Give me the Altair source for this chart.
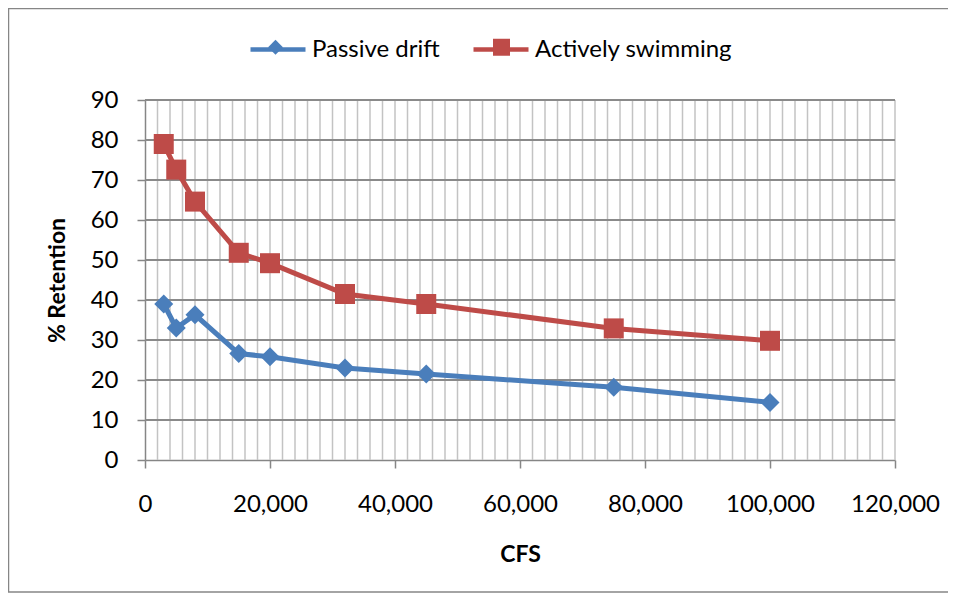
import altair as alt
import pandas as pd

# ---- data ----
cfs = [3000, 5000, 8000, 15000, 20000, 32000, 45000, 75000, 100000]
passive = [39.0, 33.0, 36.3, 26.6, 25.8, 23.0, 21.5, 18.2, 14.4]
active = [79.0, 72.6, 64.6, 51.8, 49.2, 41.5, 39.0, 32.9, 29.8]
series_names = ["Passive drift", "Actively swimming"]
series_colors = ["#4a7ebb", "#be4b48"]

x_ticks = [0, 20000, 40000, 60000, 80000, 100000, 120000]
y_ticks = [0, 10, 20, 30, 40, 50, 60, 70, 80, 90]
x_minor_grid = list(range(2000, 120001, 2000))
y_grid = [10, 20, 30, 40, 50, 60, 70, 80, 90]

rows = []
for c, p, a in zip(cfs, passive, active):
    rows.append({"cfs": c, "pct": p, "series": series_names[0]})
    rows.append({"cfs": c, "pct": a, "series": series_names[1]})
df = pd.DataFrame(rows)

W, H = 750, 360
FONT = "Lato"
AXIS_GRAY = "#868686"

x_axis = alt.Axis(values=x_ticks, format=",.0f", grid=False, domainColor=AXIS_GRAY, domainWidth=1.5,
                  tickColor=AXIS_GRAY, tickWidth=1.5, tickSize=8, labelFont=FONT, labelFontSize=24,
                  labelColor="black", labelPadding=24, labelFlush=False, labelOverlap=False,
                  title="CFS", titleFont=FONT, titleFontSize=23, titleFontWeight="bold",
                  titleColor="black", titleY=94, titleBaseline="middle")
y_axis = alt.Axis(values=y_ticks, format=".0f", grid=False, domainColor=AXIS_GRAY, domainWidth=1.5,
                  tickColor=AXIS_GRAY, tickWidth=1.5, tickSize=8, labelFont=FONT, labelFontSize=24,
                  labelColor="black", labelPadding=19, labelFlush=False, labelOverlap=False,
                  title="% Retention", titleFont=FONT, titleFontSize=23, titleFontWeight="bold",
                  titleColor="black", titleAngle=270, titleX=-88, titleY=180,
                  titleAlign="center", titleBaseline="middle")
x_scale = alt.Scale(domain=[0, 120000], nice=False, zero=True)
y_scale = alt.Scale(domain=[0, 90], nice=False)


def X(field):
    return alt.X(field, type="quantitative", scale=x_scale, axis=x_axis)


def Y(field):
    return alt.Y(field, type="quantitative", scale=y_scale, axis=y_axis)


leg_common = dict(orient="none", legendX=103, legendY=-80.5, direction="horizontal", title=None,
                  labelFont=FONT, labelFontSize=24, labelOffset=4,
                  symbolSize=3025, symbolOpacity=1, padding=0, labelLimit=400,
                  values=series_names)

# outer chart border
border = alt.Chart(pd.DataFrame({"b": [0]})).mark_rect(
    fillOpacity=0, stroke=AXIS_GRAY, strokeWidth=1.5
).encode(x=alt.value(-136.5), x2=alt.value(W + 70), y=alt.value(-91.5), y2=alt.value(H + 132))

vgrid = alt.Chart(pd.DataFrame({"gx": x_minor_grid})).mark_rule(
    color="#c3c3c3", strokeWidth=1.5
).encode(x=X("gx"))

hgrid = alt.Chart(pd.DataFrame({"gy": y_grid})).mark_rule(
    color="#8a8a8a", strokeWidth=1.8
).encode(y=Y("gy"))

# lines carry the visible legend (line symbols + labels); domain listed in reverse
# order so this legend is kept apart from the marker legend
lines = alt.Chart(df).mark_line(strokeWidth=5).encode(
    x=X("cfs"), y=Y("pct"),
    color=alt.Color("series:N",
                    scale=alt.Scale(domain=series_names[::-1], range=series_colors[::-1]),
                    legend=alt.Legend(symbolType="stroke", symbolStrokeWidth=4.5,
                                      labelColor="black", columnPadding=24, **leg_common)),
)

# markers: diamond / square; their legend (no labels) overlays the line symbols
marker_paths = [
    "M0,-0.27L0.27,0L0,0.27L-0.27,0Z",
    "M-0.309,-0.309L0.309,-0.309L0.309,0.309L-0.309,0.309Z",
]
marker_sizes = [4950, 4190]
marker_legend = alt.Legend(symbolStrokeWidth=0, labelExpr="''", columnPadding=167,
                           **leg_common)


def marker_layer(i):
    return alt.Chart(df).transform_filter(
        alt.datum.series == series_names[i]
    ).mark_point(filled=True, size=marker_sizes[i], opacity=1, strokeWidth=0).encode(
        x=X("cfs"), y=Y("pct"),
        fill=alt.Fill("series:N", scale=alt.Scale(domain=series_names, range=series_colors),
                      legend=marker_legend),
        shape=alt.Shape("series:N", scale=alt.Scale(domain=series_names, range=marker_paths),
                        legend=marker_legend),
    )


chart = alt.layer(border, vgrid, hgrid, lines, marker_layer(0), marker_layer(1)).properties(
    width=W, height=H,
    autosize=alt.AutoSizeParams(type="none"),
    padding={"left": 137, "top": 92, "right": 53, "bottom": 133},
    background="white",
).configure_view(stroke="transparent")

chart.save("out.html", embed_options={"renderer": "svg", "actions": False})
